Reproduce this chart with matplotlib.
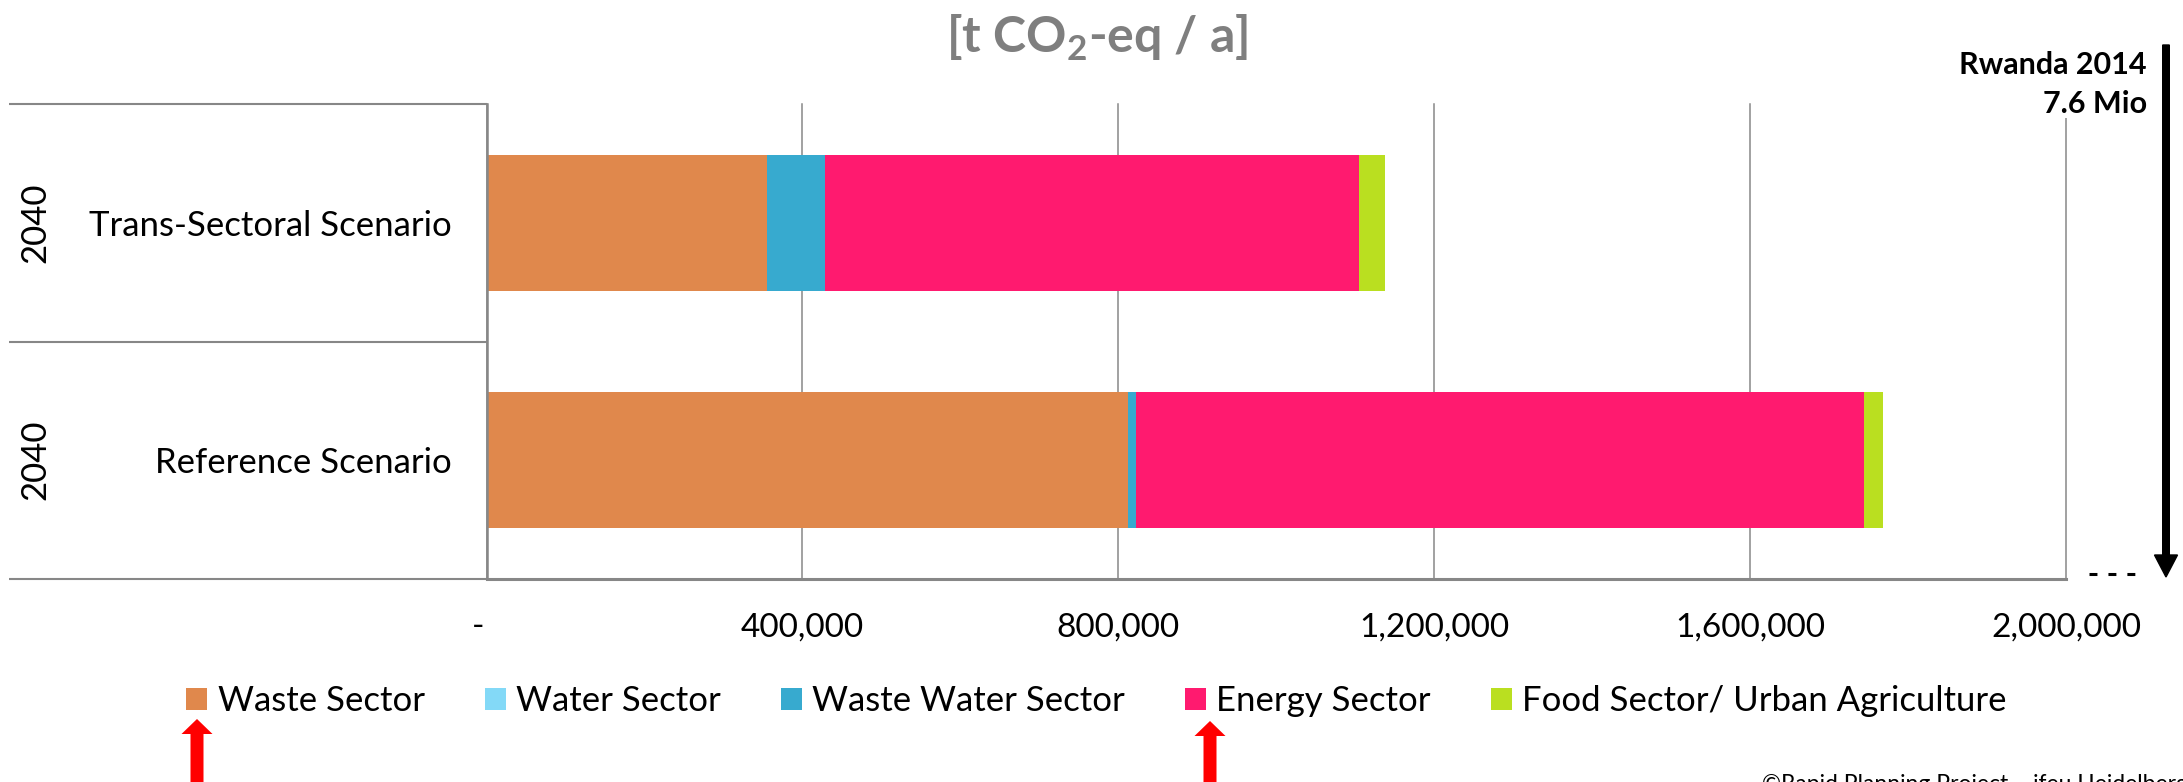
import matplotlib
matplotlib.use("Agg")
import matplotlib.pyplot as plt
import matplotlib.transforms as mtransforms
from matplotlib.patches import Patch, FancyArrow
from matplotlib.lines import Line2D

# ---- data -------------------------------------------------------------
scenarios = ["Reference Scenario", "Trans-Sectoral Scenario"]
years = ["2040", "2040"]
sectors = ["Waste Sector", "Water Sector", "Waste Water Sector",
           "Energy Sector", "Food Sector/ Urban Agriculture"]
waste = [812000, 355500]
water = [0, 0]
waste_water = [10500, 72500]
energy = [922000, 677000]
food = [23300, 32300]
x_ticks = [0, 400000, 800000, 1200000, 1600000, 2000000]
colors = ["#E0884C", "#83D9F7", "#37AACF", "#FF1A6F", "#BADF20"]

# ---- styling ------------------------------------------------------------
plt.rcParams["font.family"] = ["Lato", "DejaVu Sans"]
plt.rcParams["mathtext.fontset"] = "custom"
plt.rcParams["mathtext.rm"] = "Lato"
plt.rcParams["mathtext.bf"] = "Lato:bold"

W, H, DPI = 2183, 782, 100
GRID = "#878787"
FS = 25

fig = plt.figure(figsize=(W / DPI, H / DPI), dpi=DPI)
ax = fig.add_axes([486.5 / W, 1 - 579 / H, (2066 - 486.5) / W, (579 - 104) / H])

def fig_xy(x, y):
    """Pixel position (from top-left) to figure fraction."""
    return x / W, 1 - y / H

# ---- stacked bars -------------------------------------------------------
ypos = list(range(len(scenarios)))
left = [0.0] * len(scenarios)
for name, vals, col in zip(sectors, [waste, water, waste_water, energy, food], colors):
    ax.barh(ypos, vals, left=left, height=0.573, color=col, linewidth=0, label=name)
    left = [l + v for l, v in zip(left, vals)]

ax.set_xlim(0, 2000000)
ax.set_ylim(-0.5, len(scenarios) - 0.5)

# ---- axes, grid, ticks --------------------------------------------------
ax.set_axisbelow(True)
ax.xaxis.grid(True, color=GRID, linewidth=1.1)
ax.yaxis.grid(False)
for gl in ax.get_xgridlines():
    gl.set_clip_on(False)
for s in ("top", "right"):
    ax.spines[s].set_visible(False)
ax.spines["left"].set_color(GRID)
ax.spines["left"].set_linewidth(1.8)
ax.spines["bottom"].set_color(GRID)
ax.spines["bottom"].set_linewidth(2.2)

ax.set_xticks(x_ticks)
ax.set_xticklabels(["-" if t == 0 else f"{t:,.0f}" for t in x_ticks], fontsize=24)
ax.tick_params(axis="x", length=0, pad=24)
zero_lbl = ax.get_xticklabels()[0]
zero_lbl.set_transform(zero_lbl.get_transform() +
                       mtransforms.ScaledTranslation(-8.5 / DPI, 0, fig.dpi_scale_trans))

ax.set_yticks(ypos)
ax.set_yticklabels(scenarios, fontsize=FS)
ax.tick_params(axis="y", length=0, pad=25)

# category table lines to the left of the plot
tbl_left = (9 - 486.5) / (2066 - 486.5)
for yb in [-0.5, 0.5, len(scenarios) - 0.5]:
    ax.plot([tbl_left, 0], [yb, yb], transform=ax.get_yaxis_transform(),
            color=GRID, linewidth=1.5, clip_on=False, solid_capstyle="butt")

# year labels
yr_tr = mtransforms.blended_transform_factory(fig.transFigure, ax.transData)
for y, yr in zip(ypos, years):
    ax.text(35 / W, y, yr, transform=yr_tr, rotation=90, fontsize=FS,
            ha="center", va="center")

# ---- title and annotations ---------------------------------------------
fig.text(*fig_xy(1097, 53), r"[t CO$_\mathbf{2}$-eq / a]", fontsize=36,
         fontweight="bold", color="#7F7F7F", ha="center", va="baseline")

fig.text(*fig_xy(2147, 74), "Rwanda 2014", fontsize=22, fontweight="bold",
         ha="right", va="baseline")
fig.text(*fig_xy(2147, 113), "7.6 Mio", fontsize=22, fontweight="bold",
         ha="right", va="baseline",
         bbox=dict(facecolor="white", edgecolor="none", pad=0))

# downward population arrow
fig.patches.append(FancyArrow(21.66, (H - 45) / DPI, 0, -(577 - 45) / DPI,
                              width=0.066, head_width=0.23, head_length=0.22,
                              length_includes_head=True, color="black",
                              transform=fig.dpi_scale_trans, figure=fig))
fig.add_artist(Line2D([2089 / W, 2135 / W], [1 - 574 / H, 1 - 574 / H],
                      transform=fig.transFigure, color="black",
                      linewidth=2.2, dashes=[2.6, 3.6]))

# ---- legend -------------------------------------------------------------
handles = [Patch(facecolor=c, edgecolor="none") for c in colors]
fig.legend(handles, sectors, loc="center", bbox_to_anchor=fig_xy(1096.5, 701),
           ncol=5, frameon=False, fontsize=FS, handlelength=0.6,
           handleheight=0.6, handletextpad=0.3, columnspacing=1.73,
           borderpad=0, borderaxespad=0)

# red pointer arrows under the highlighted sectors
for xc, tip in [(197, 719), (1210, 721)]:
    fig.patches.append(FancyArrow(xc / DPI, (H - 800) / DPI, 0, (800 - tip) / DPI,
                                  width=0.13, head_width=0.31, head_length=0.15,
                                  length_includes_head=True, color="#FF0000",
                                  linewidth=0, transform=fig.dpi_scale_trans,
                                  figure=fig))

fig.text(*fig_xy(1762, 774), "\u00a9Rapid Planning Project \u2013 ifeu Heidelberg",
         fontsize=16.5, ha="left", va="top")

fig.savefig("out.png", dpi=DPI)
